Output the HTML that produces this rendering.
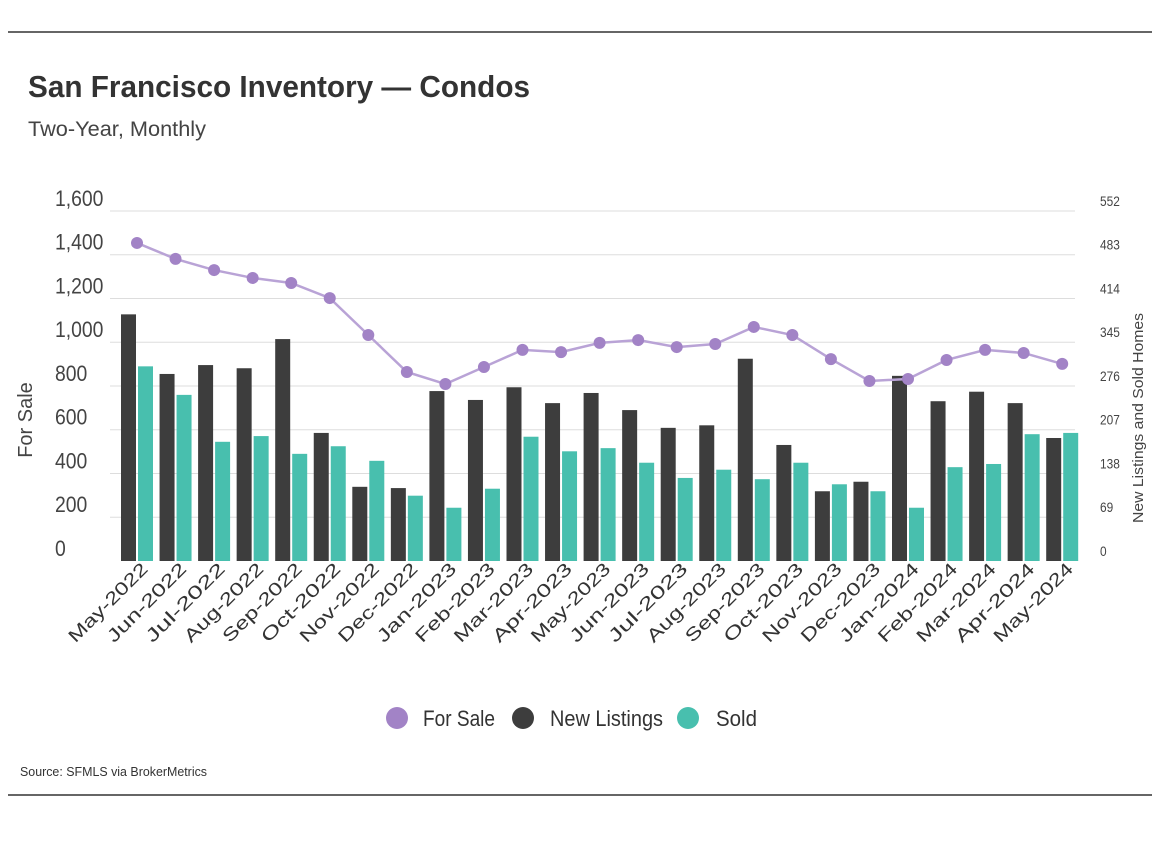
<!DOCTYPE html>
<html><head><meta charset="utf-8"><style>
body{margin:0;background:#fff;width:1168px;height:838px;overflow:hidden;font-family:"Liberation Sans Narrow","Liberation Sans",sans-serif;}
svg text{font-family:"Liberation Sans Narrow","Liberation Sans",sans-serif;}
</style></head><body>
<svg id="c" width="1168" height="838">
<line x1="8" y1="32" x2="1152" y2="32" stroke="#333" stroke-width="1.5"/>
<line x1="8" y1="795" x2="1152" y2="795" stroke="#333" stroke-width="1.5"/>
<text x="28" y="97" font-size="31" font-weight="bold" fill="#333" textLength="502" lengthAdjust="spacingAndGlyphs">San Francisco Inventory — Condos</text>
<text x="28" y="136" font-size="21" fill="#444" textLength="178" lengthAdjust="spacingAndGlyphs">Two-Year, Monthly</text>
<text transform="translate(32,420) rotate(-90)" text-anchor="middle" font-size="20" fill="#444">For Sale</text>
<text transform="translate(1143,418) rotate(-90)" text-anchor="middle" font-size="15" fill="#444" textLength="210" lengthAdjust="spacingAndGlyphs">New Listings and Sold Homes</text>
<g id="grid"></g><g id="bars"></g><g id="line"></g><g id="xl"></g>
<g>
<circle cx="397" cy="718" r="11" fill="#a283c6"/>
<text x="423" y="726" font-size="22" fill="#333" textLength="72" lengthAdjust="spacingAndGlyphs">For Sale</text>
<circle cx="523" cy="718" r="11" fill="#3d3d3d"/>
<text x="550" y="726" font-size="22" fill="#333" textLength="113" lengthAdjust="spacingAndGlyphs">New Listings</text>
<circle cx="688" cy="718" r="11" fill="#48bfae"/>
<text x="716" y="726" font-size="22" fill="#333" textLength="41" lengthAdjust="spacingAndGlyphs">Sold</text>
</g>
<text x="20" y="776" font-size="13" fill="#333" textLength="187" lengthAdjust="spacingAndGlyphs">Source:  SFMLS via BrokerMetrics</text>
</svg>
<script>
const months=["May-2022","Jun-2022","Jul-2022","Aug-2022","Sep-2022","Oct-2022","Nov-2022","Dec-2022","Jan-2023","Feb-2023","Mar-2023","Apr-2023","May-2023","Jun-2023","Jul-2023","Aug-2023","Sep-2023","Oct-2023","Nov-2023","Dec-2023","Jan-2024","Feb-2024","Mar-2024","Apr-2024","May-2024"];
const forSale=[1454,1381,1330,1294,1271,1202,1033,864,809,887,965,955,997,1010,978,992,1070,1033,923,823,832,919,965,951,901];
const newListings=[389,295,309,304,350,202,117,115,268,254,274,249,265,238,210,214,319,183,110,125,292,252,267,249,194];
const sold=[307,262,188,197,169,181,158,103,84,114,196,173,178,155,131,144,129,155,121,110,84,148,153,200,202];
const leftTicks=["0","200","400","600","800","1,000","1,200","1,400","1,600"];
const rightTicks=["0","69","138","207","276","345","414","483","552"];
const NS="http://www.w3.org/2000/svg";
const y0=561,yTop=211,leftMax=1600,rightMax=552;
const yL=v=>y0-(v/leftMax)*(y0-yTop);
const yR=v=>y0-(v/rightMax)*(y0-yTop);
const xC=i=>137+i*38.55;
function mk(t,a,p){const e=document.createElementNS(NS,t);for(const k in a)e.setAttribute(k,a[k]);p.appendChild(e);return e;}
const grid=document.getElementById('grid');
leftTicks.forEach((t,i)=>{const y=y0-i*(y0-yTop)/8;
 if(i>0){const l=mk('line',{x1:110,x2:1075,y1:y,y2:y,stroke:'#ddd','stroke-width':1},grid);
 
 }
 const tx=mk('text',{x:55,y:y-5,'font-size':22,fill:'#444',transform:`translate(${55*0.12},0) scale(0.88,1)`},grid);tx.textContent=t;
 
 
 const tr=mk('text',{x:1100,y:y-5,'font-size':14,fill:'#444',transform:`translate(${1100*0.15},0) scale(0.85,1)`},grid);tr.textContent=rightTicks[i];
 
 
});
const bars=document.getElementById('bars'),xl=document.getElementById('xl');
months.forEach((m,i)=>{const c=xC(i);
 const b1=mk('rect',{x:c-16,y:yR(newListings[i]),width:15,height:y0-yR(newListings[i]),fill:'#3d3d3d'},bars);
 
 
 const b2=mk('rect',{x:c+1,y:yR(sold[i]),width:15,height:y0-yR(sold[i]),fill:'#48bfae'},bars);
 
 
 const t=mk('text',{transform:`translate(${c+12},570) rotate(-45)`,'text-anchor':'end','font-size':18,fill:'#333',textLength:104,lengthAdjust:'spacingAndGlyphs'},xl);t.textContent=m;
 
 
});
const lg=document.getElementById('line');
const pl=mk('polyline',{points:forSale.map((v,i)=>xC(i)+','+yL(v)).join(' '),fill:'none',stroke:'#b9a3d6','stroke-width':2.5},lg);


forSale.forEach((v,i)=>{const p=mk('circle',{cx:xC(i),cy:yL(v),r:6,fill:'#a283c6'},lg);
 
 });
</script>
</body></html>
